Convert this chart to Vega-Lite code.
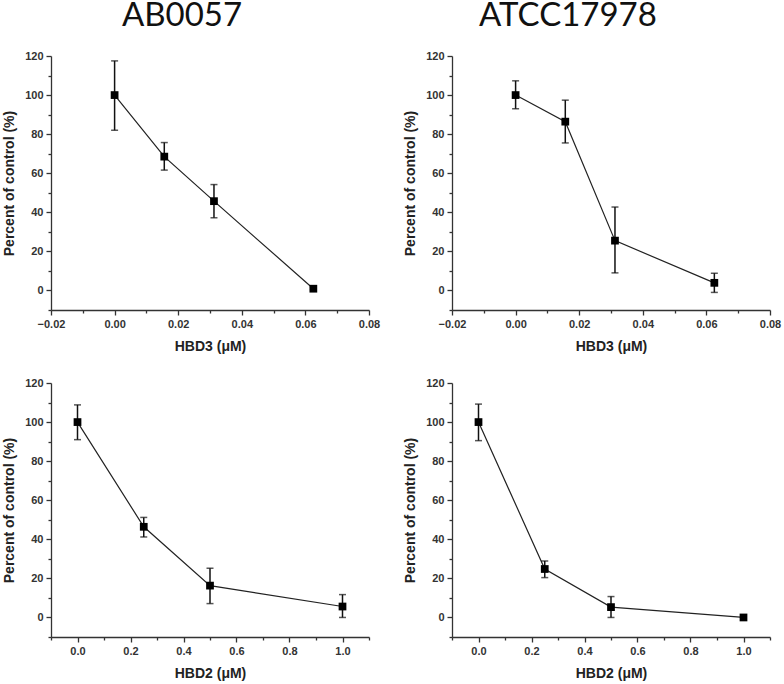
{
  "$schema": "https://vega.github.io/schema/vega-lite/v6.json",
  "padding": {"left": 2, "top": 0, "right": 5, "bottom": 5},
  "background": "white",
  "datasets": {
    "pts": [
      {"panel": "A3", "x": 0, "y": 100, "lo": 82, "hi": 117.5},
      {"panel": "A3", "x": 0.015625, "y": 68.5, "lo": 61.6, "hi": 75.7},
      {"panel": "A3", "x": 0.03125, "y": 45.7, "lo": 37.2, "hi": 54.2},
      {"panel": "A3", "x": 0.0625, "y": 0.9, "lo": 0.4, "hi": 1.4},
      {"panel": "T3", "x": 0, "y": 100, "lo": 93, "hi": 107.3},
      {"panel": "T3", "x": 0.015625, "y": 86.4, "lo": 75.5, "hi": 97.4},
      {"panel": "T3", "x": 0.03125, "y": 25.5, "lo": 9, "hi": 42.7},
      {"panel": "T3", "x": 0.0625, "y": 3.9, "lo": -1, "hi": 8.8},
      {"panel": "A2", "x": 0, "y": 100, "lo": 91, "hi": 108.8},
      {"panel": "A2", "x": 0.25, "y": 46.4, "lo": 41.2, "hi": 51.2},
      {"panel": "A2", "x": 0.5, "y": 16.3, "lo": 7.1, "hi": 25.2},
      {"panel": "A2", "x": 1, "y": 5.6, "lo": 0, "hi": 11.7},
      {"panel": "T2", "x": 0, "y": 100, "lo": 90.5, "hi": 109.2},
      {"panel": "T2", "x": 0.25, "y": 24.8, "lo": 20.4, "hi": 28.9},
      {"panel": "T2", "x": 0.5, "y": 5.3, "lo": 0, "hi": 10.7},
      {"panel": "T2", "x": 1, "y": 0, "lo": 0, "hi": 0}
    ]
  },
  "config": {
    "view": {"stroke": null},
    "axis": {
      "grid": false,
      "domainColor": "#333",
      "domainWidth": 1.3,
      "tickColor": "#333",
      "tickWidth": 1.3,
      "labelFont": "Liberation Sans",
      "labelFontWeight": "bold",
      "labelFontSize": 11,
      "labelColor": "#333",
      "labelPadding": 3,
      "labelFlush": false,
      "labelOverlap": false,
      "labelBound": false,
      "titleFont": "Liberation Sans",
      "titleFontWeight": "bold",
      "titleFontSize": 14,
      "titleColor": "#222"
    },
    "title": {"font": "Lato", "fontSize": 33, "fontWeight": "normal", "color": "#111"}
  },
  "concat": [
    {
      "width": 318, "height": 254,
      "title": {"text": "AB0057", "anchor": "middle", "dx": -28, "baseline": "alphabetic", "offset": -9},
      "data": {"name": "pts"},
      "transform": [{"filter": "datum.panel === 'A3'"}],
      "encoding": {
        "x": {"field": "x", "type": "quantitative", "title": "HBD3 (μM)",
          "scale": {"domain": [-0.02, 0.08], "nice": false, "zero": false},
          "axis": {"values": [-0.02, -0.01, 0, 0.01, 0.02, 0.03, 0.04, 0.05, 0.06, 0.07, 0.08], "format": ".2f",
            "labelExpr": "abs(round(datum.value*100)) % 2 === 0 ? datum.label : ''",
            "tickSize": {"condition": {"test": "abs(round(datum.value*100)) % 2 === 0", "value": 5}, "value": 3},
            "titlePadding": 10}}
      },
      "layer": [
        {"mark": {"type": "line", "color": "#222", "strokeWidth": 1.2},
         "encoding": {"y": {"field": "y", "type": "quantitative", "title": "Percent of control (%)",
           "scale": {"domain": [-10, 120], "nice": false, "zero": false},
           "axis": {"values": [-10, 0, 10, 20, 30, 40, 50, 60, 70, 80, 90, 100, 110, 120],
             "labelExpr": "abs(round(datum.value)) % 20 === 0 ? datum.label : ''",
             "tickSize": {"condition": {"test": "abs(round(datum.value)) % 20 === 0", "value": 5}, "value": 3},
             "titlePadding": 8}}}},
        {"mark": {"type": "rule", "color": "#111", "strokeWidth": 1.5},
         "encoding": {"y": {"field": "lo", "type": "quantitative", "title": "Percent of control (%)",
           "scale": {"domain": [-10, 120], "nice": false, "zero": false},
           "axis": {"values": [-10, 0, 10, 20, 30, 40, 50, 60, 70, 80, 90, 100, 110, 120],
             "labelExpr": "abs(round(datum.value)) % 20 === 0 ? datum.label : ''",
             "tickSize": {"condition": {"test": "abs(round(datum.value)) % 20 === 0", "value": 5}, "value": 3},
             "titlePadding": 8}}, "y2": {"field": "hi"}}},
        {"mark": {"type": "tick", "orient": "horizontal", "color": "#111", "size": 7, "thickness": 1.5},
         "encoding": {"y": {"field": "lo", "type": "quantitative", "title": "Percent of control (%)",
           "scale": {"domain": [-10, 120], "nice": false, "zero": false},
           "axis": {"values": [-10, 0, 10, 20, 30, 40, 50, 60, 70, 80, 90, 100, 110, 120],
             "labelExpr": "abs(round(datum.value)) % 20 === 0 ? datum.label : ''",
             "tickSize": {"condition": {"test": "abs(round(datum.value)) % 20 === 0", "value": 5}, "value": 3},
             "titlePadding": 8}}}},
        {"mark": {"type": "tick", "orient": "horizontal", "color": "#111", "size": 7, "thickness": 1.5},
         "encoding": {"y": {"field": "hi", "type": "quantitative", "title": "Percent of control (%)",
           "scale": {"domain": [-10, 120], "nice": false, "zero": false},
           "axis": {"values": [-10, 0, 10, 20, 30, 40, 50, 60, 70, 80, 90, 100, 110, 120],
             "labelExpr": "abs(round(datum.value)) % 20 === 0 ? datum.label : ''",
             "tickSize": {"condition": {"test": "abs(round(datum.value)) % 20 === 0", "value": 5}, "value": 3},
             "titlePadding": 8}}}},
        {"mark": {"type": "square", "color": "#000", "opacity": 1, "size": 60},
         "encoding": {"y": {"field": "y", "type": "quantitative", "title": "Percent of control (%)",
           "scale": {"domain": [-10, 120], "nice": false, "zero": false},
           "axis": {"values": [-10, 0, 10, 20, 30, 40, 50, 60, 70, 80, 90, 100, 110, 120],
             "labelExpr": "abs(round(datum.value)) % 20 === 0 ? datum.label : ''",
             "tickSize": {"condition": {"test": "abs(round(datum.value)) % 20 === 0", "value": 5}, "value": 3},
             "titlePadding": 8}}}}
      ]
    },
    {
      "width": 318, "height": 254,
      "title": {"text": "ATCC17978", "anchor": "middle", "dx": -43, "baseline": "alphabetic", "offset": -9},
      "data": {"name": "pts"},
      "transform": [{"filter": "datum.panel === 'T3'"}],
      "encoding": {
        "x": {"field": "x", "type": "quantitative", "title": "HBD3 (μM)",
          "scale": {"domain": [-0.02, 0.08], "nice": false, "zero": false},
          "axis": {"values": [-0.02, -0.01, 0, 0.01, 0.02, 0.03, 0.04, 0.05, 0.06, 0.07, 0.08], "format": ".2f",
            "labelExpr": "abs(round(datum.value*100)) % 2 === 0 ? datum.label : ''",
            "tickSize": {"condition": {"test": "abs(round(datum.value*100)) % 2 === 0", "value": 5}, "value": 3},
            "titlePadding": 10}}
      },
      "layer": [
        {"mark": {"type": "line", "color": "#222", "strokeWidth": 1.2},
         "encoding": {"y": {"field": "y", "type": "quantitative", "title": "Percent of control (%)",
           "scale": {"domain": [-10, 120], "nice": false, "zero": false},
           "axis": {"values": [-10, 0, 10, 20, 30, 40, 50, 60, 70, 80, 90, 100, 110, 120],
             "labelExpr": "abs(round(datum.value)) % 20 === 0 ? datum.label : ''",
             "tickSize": {"condition": {"test": "abs(round(datum.value)) % 20 === 0", "value": 5}, "value": 3},
             "titlePadding": 8}}}},
        {"mark": {"type": "rule", "color": "#111", "strokeWidth": 1.5},
         "encoding": {"y": {"field": "lo", "type": "quantitative", "title": "Percent of control (%)",
           "scale": {"domain": [-10, 120], "nice": false, "zero": false},
           "axis": {"values": [-10, 0, 10, 20, 30, 40, 50, 60, 70, 80, 90, 100, 110, 120],
             "labelExpr": "abs(round(datum.value)) % 20 === 0 ? datum.label : ''",
             "tickSize": {"condition": {"test": "abs(round(datum.value)) % 20 === 0", "value": 5}, "value": 3},
             "titlePadding": 8}}, "y2": {"field": "hi"}}},
        {"mark": {"type": "tick", "orient": "horizontal", "color": "#111", "size": 7, "thickness": 1.5},
         "encoding": {"y": {"field": "lo", "type": "quantitative", "title": "Percent of control (%)",
           "scale": {"domain": [-10, 120], "nice": false, "zero": false},
           "axis": {"values": [-10, 0, 10, 20, 30, 40, 50, 60, 70, 80, 90, 100, 110, 120],
             "labelExpr": "abs(round(datum.value)) % 20 === 0 ? datum.label : ''",
             "tickSize": {"condition": {"test": "abs(round(datum.value)) % 20 === 0", "value": 5}, "value": 3},
             "titlePadding": 8}}}},
        {"mark": {"type": "tick", "orient": "horizontal", "color": "#111", "size": 7, "thickness": 1.5},
         "encoding": {"y": {"field": "hi", "type": "quantitative", "title": "Percent of control (%)",
           "scale": {"domain": [-10, 120], "nice": false, "zero": false},
           "axis": {"values": [-10, 0, 10, 20, 30, 40, 50, 60, 70, 80, 90, 100, 110, 120],
             "labelExpr": "abs(round(datum.value)) % 20 === 0 ? datum.label : ''",
             "tickSize": {"condition": {"test": "abs(round(datum.value)) % 20 === 0", "value": 5}, "value": 3},
             "titlePadding": 8}}}},
        {"mark": {"type": "square", "color": "#000", "opacity": 1, "size": 60},
         "encoding": {"y": {"field": "y", "type": "quantitative", "title": "Percent of control (%)",
           "scale": {"domain": [-10, 120], "nice": false, "zero": false},
           "axis": {"values": [-10, 0, 10, 20, 30, 40, 50, 60, 70, 80, 90, 100, 110, 120],
             "labelExpr": "abs(round(datum.value)) % 20 === 0 ? datum.label : ''",
             "tickSize": {"condition": {"test": "abs(round(datum.value)) % 20 === 0", "value": 5}, "value": 3},
             "titlePadding": 8}}}}
      ]
    },
    {
      "width": 318, "height": 254,
      "data": {"name": "pts"},
      "transform": [{"filter": "datum.panel === 'A2'"}],
      "encoding": {
        "x": {"field": "x", "type": "quantitative", "title": "HBD2 (μM)",
          "scale": {"domain": [-0.1, 1.1], "nice": false, "zero": false},
          "axis": {"values": [-0.1, 0, 0.1, 0.2, 0.3, 0.4, 0.5, 0.6, 0.7, 0.8, 0.9, 1.0, 1.1], "format": ".1f",
            "labelExpr": "abs(round(datum.value*10)) % 2 === 0 ? datum.label : ''",
            "tickSize": {"condition": {"test": "abs(round(datum.value*10)) % 2 === 0", "value": 5}, "value": 3},
            "titlePadding": 10}}
      },
      "layer": [
        {"mark": {"type": "line", "color": "#222", "strokeWidth": 1.2},
         "encoding": {"y": {"field": "y", "type": "quantitative", "title": "Percent of control (%)",
           "scale": {"domain": [-10, 120], "nice": false, "zero": false},
           "axis": {"values": [-10, 0, 10, 20, 30, 40, 50, 60, 70, 80, 90, 100, 110, 120],
             "labelExpr": "abs(round(datum.value)) % 20 === 0 ? datum.label : ''",
             "tickSize": {"condition": {"test": "abs(round(datum.value)) % 20 === 0", "value": 5}, "value": 3},
             "titlePadding": 8}}}},
        {"mark": {"type": "rule", "color": "#111", "strokeWidth": 1.5},
         "encoding": {"y": {"field": "lo", "type": "quantitative", "title": "Percent of control (%)",
           "scale": {"domain": [-10, 120], "nice": false, "zero": false},
           "axis": {"values": [-10, 0, 10, 20, 30, 40, 50, 60, 70, 80, 90, 100, 110, 120],
             "labelExpr": "abs(round(datum.value)) % 20 === 0 ? datum.label : ''",
             "tickSize": {"condition": {"test": "abs(round(datum.value)) % 20 === 0", "value": 5}, "value": 3},
             "titlePadding": 8}}, "y2": {"field": "hi"}}},
        {"mark": {"type": "tick", "orient": "horizontal", "color": "#111", "size": 7, "thickness": 1.5},
         "encoding": {"y": {"field": "lo", "type": "quantitative", "title": "Percent of control (%)",
           "scale": {"domain": [-10, 120], "nice": false, "zero": false},
           "axis": {"values": [-10, 0, 10, 20, 30, 40, 50, 60, 70, 80, 90, 100, 110, 120],
             "labelExpr": "abs(round(datum.value)) % 20 === 0 ? datum.label : ''",
             "tickSize": {"condition": {"test": "abs(round(datum.value)) % 20 === 0", "value": 5}, "value": 3},
             "titlePadding": 8}}}},
        {"mark": {"type": "tick", "orient": "horizontal", "color": "#111", "size": 7, "thickness": 1.5},
         "encoding": {"y": {"field": "hi", "type": "quantitative", "title": "Percent of control (%)",
           "scale": {"domain": [-10, 120], "nice": false, "zero": false},
           "axis": {"values": [-10, 0, 10, 20, 30, 40, 50, 60, 70, 80, 90, 100, 110, 120],
             "labelExpr": "abs(round(datum.value)) % 20 === 0 ? datum.label : ''",
             "tickSize": {"condition": {"test": "abs(round(datum.value)) % 20 === 0", "value": 5}, "value": 3},
             "titlePadding": 8}}}},
        {"mark": {"type": "square", "color": "#000", "opacity": 1, "size": 60},
         "encoding": {"y": {"field": "y", "type": "quantitative", "title": "Percent of control (%)",
           "scale": {"domain": [-10, 120], "nice": false, "zero": false},
           "axis": {"values": [-10, 0, 10, 20, 30, 40, 50, 60, 70, 80, 90, 100, 110, 120],
             "labelExpr": "abs(round(datum.value)) % 20 === 0 ? datum.label : ''",
             "tickSize": {"condition": {"test": "abs(round(datum.value)) % 20 === 0", "value": 5}, "value": 3},
             "titlePadding": 8}}}}
      ]
    },
    {
      "width": 318, "height": 254,
      "data": {"name": "pts"},
      "transform": [{"filter": "datum.panel === 'T2'"}],
      "encoding": {
        "x": {"field": "x", "type": "quantitative", "title": "HBD2 (μM)",
          "scale": {"domain": [-0.1, 1.1], "nice": false, "zero": false},
          "axis": {"values": [-0.1, 0, 0.1, 0.2, 0.3, 0.4, 0.5, 0.6, 0.7, 0.8, 0.9, 1.0, 1.1], "format": ".1f",
            "labelExpr": "abs(round(datum.value*10)) % 2 === 0 ? datum.label : ''",
            "tickSize": {"condition": {"test": "abs(round(datum.value*10)) % 2 === 0", "value": 5}, "value": 3},
            "titlePadding": 10}}
      },
      "layer": [
        {"mark": {"type": "line", "color": "#222", "strokeWidth": 1.2},
         "encoding": {"y": {"field": "y", "type": "quantitative", "title": "Percent of control (%)",
           "scale": {"domain": [-10, 120], "nice": false, "zero": false},
           "axis": {"values": [-10, 0, 10, 20, 30, 40, 50, 60, 70, 80, 90, 100, 110, 120],
             "labelExpr": "abs(round(datum.value)) % 20 === 0 ? datum.label : ''",
             "tickSize": {"condition": {"test": "abs(round(datum.value)) % 20 === 0", "value": 5}, "value": 3},
             "titlePadding": 8}}}},
        {"mark": {"type": "rule", "color": "#111", "strokeWidth": 1.5},
         "encoding": {"y": {"field": "lo", "type": "quantitative", "title": "Percent of control (%)",
           "scale": {"domain": [-10, 120], "nice": false, "zero": false},
           "axis": {"values": [-10, 0, 10, 20, 30, 40, 50, 60, 70, 80, 90, 100, 110, 120],
             "labelExpr": "abs(round(datum.value)) % 20 === 0 ? datum.label : ''",
             "tickSize": {"condition": {"test": "abs(round(datum.value)) % 20 === 0", "value": 5}, "value": 3},
             "titlePadding": 8}}, "y2": {"field": "hi"}}},
        {"mark": {"type": "tick", "orient": "horizontal", "color": "#111", "size": 7, "thickness": 1.5},
         "encoding": {"y": {"field": "lo", "type": "quantitative", "title": "Percent of control (%)",
           "scale": {"domain": [-10, 120], "nice": false, "zero": false},
           "axis": {"values": [-10, 0, 10, 20, 30, 40, 50, 60, 70, 80, 90, 100, 110, 120],
             "labelExpr": "abs(round(datum.value)) % 20 === 0 ? datum.label : ''",
             "tickSize": {"condition": {"test": "abs(round(datum.value)) % 20 === 0", "value": 5}, "value": 3},
             "titlePadding": 8}}}},
        {"mark": {"type": "tick", "orient": "horizontal", "color": "#111", "size": 7, "thickness": 1.5},
         "encoding": {"y": {"field": "hi", "type": "quantitative", "title": "Percent of control (%)",
           "scale": {"domain": [-10, 120], "nice": false, "zero": false},
           "axis": {"values": [-10, 0, 10, 20, 30, 40, 50, 60, 70, 80, 90, 100, 110, 120],
             "labelExpr": "abs(round(datum.value)) % 20 === 0 ? datum.label : ''",
             "tickSize": {"condition": {"test": "abs(round(datum.value)) % 20 === 0", "value": 5}, "value": 3},
             "titlePadding": 8}}}},
        {"mark": {"type": "square", "color": "#000", "opacity": 1, "size": 60},
         "encoding": {"y": {"field": "y", "type": "quantitative", "title": "Percent of control (%)",
           "scale": {"domain": [-10, 120], "nice": false, "zero": false},
           "axis": {"values": [-10, 0, 10, 20, 30, 40, 50, 60, 70, 80, 90, 100, 110, 120],
             "labelExpr": "abs(round(datum.value)) % 20 === 0 ? datum.label : ''",
             "tickSize": {"condition": {"test": "abs(round(datum.value)) % 20 === 0", "value": 5}, "value": 3},
             "titlePadding": 8}}}}
      ]
    }
  ],
  "columns": 2,
  "spacing": {"row": 73, "column": 83},
  "bounds": "flush"
}
